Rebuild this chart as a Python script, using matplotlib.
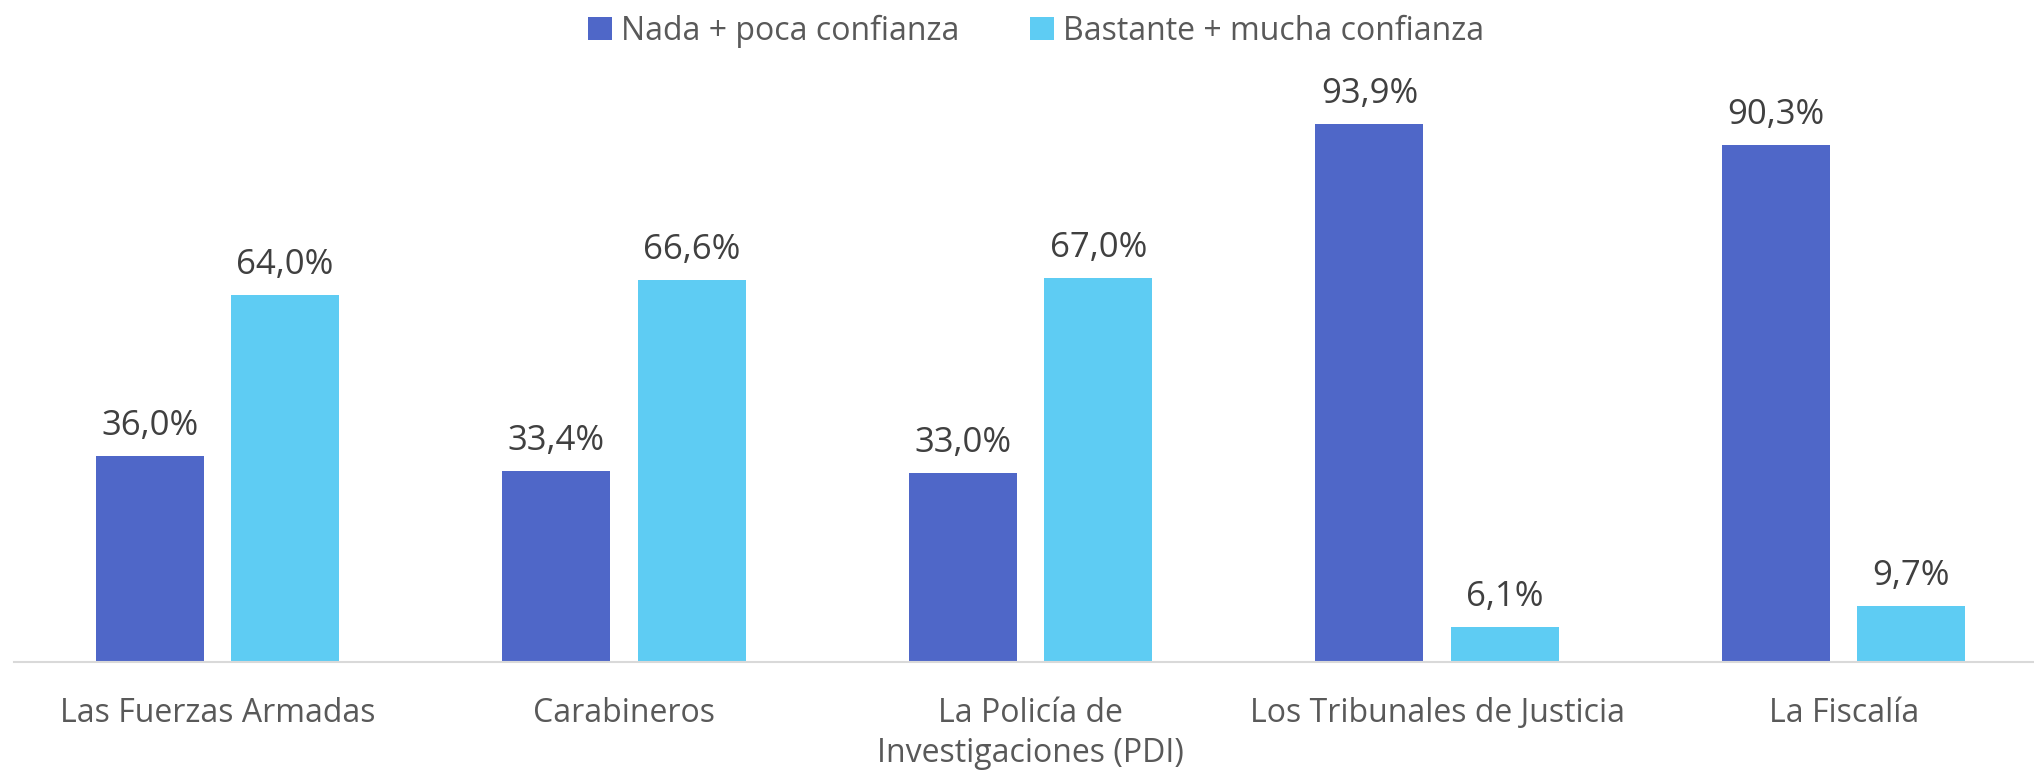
import matplotlib
matplotlib.use("Agg")
import matplotlib.pyplot as plt
import numpy as np

# %% data
categorias = ["Las Fuerzas Armadas", "Carabineros", "La Policía de\nInvestigaciones (PDI)",
              "Los Tribunales de Justicia", "La Fiscalía"]
nada_poca = [36.0, 33.4, 33.0, 93.9, 90.3]
bastante_mucha = [64.0, 66.6, 67.0, 6.1, 9.7]
series = ["Nada + poca confianza", "Bastante + mucha confianza"]
colores = ["#4F67C8", "#5ECCF3"]

plt.rcParams["font.family"] = ["Open Sans", "DejaVu Sans"]

# %% figure
W, H = 2034, 775
fig = plt.figure(figsize=(W / 100, H / 100), dpi=100)
ax = fig.add_axes([14 / W, (H - 662) / H, 2033 / W, 573 / H])

x = np.arange(len(categorias))
bw = 0.266
off = (bw + 0.067) / 2
b1 = ax.bar(x - off, nada_poca, bw, color=colores[0], label=series[0])
b2 = ax.bar(x + off, bastante_mucha, bw, color=colores[1], label=series[1])

for bars in (b1, b2):
    for r in bars:
        v = r.get_height()
        ax.annotate(f"{v:.1f}%".replace(".", ","), (r.get_x() + r.get_width() / 2, v),
                    xytext=(0, 13), textcoords="offset pixels",
                    ha="center", va="bottom", fontsize=25, color="#404040")

ax.set_xlim(-0.5, len(categorias) - 0.5)
ax.set_ylim(0, 100)
ax.set_xticks(x)
ax.set_xticklabels(categorias, fontsize=23, color="#595959", linespacing=1.3)
ax.tick_params(axis="x", length=0, pad=25)
ax.set_yticks([])
for s in ["top", "left", "right"]:
    ax.spines[s].set_visible(False)
ax.spines["bottom"].set_color("#D9D9D9")
ax.spines["bottom"].set_linewidth(1.5)

fig.legend(handles=[b1, b2], labels=series, loc="center", bbox_to_anchor=(1036 / W, 1 - 31 / H),
           ncol=2, frameon=False, fontsize=23, labelcolor="#595959",
           handlelength=0.75, handleheight=0.75, handletextpad=0.3, columnspacing=2.2)

fig.savefig("out.png", dpi=100)
